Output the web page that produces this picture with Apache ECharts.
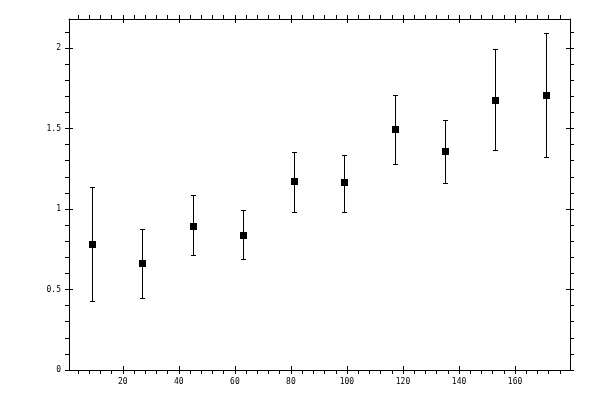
<!DOCTYPE html>
<html>
<head>
<meta charset="utf-8">
<script src="https://cdn.jsdelivr.net/npm/echarts@6/dist/echarts.min.js"></script>
<style>html,body{margin:0;padding:0;background:#fff}#c{width:600px;height:400px}</style>
</head>
<body>
<div id="c"></div>
<script>
const xValues = [9, 27, 45, 63, 81, 99, 117, 135, 153, 171];
const yValues = [0.785, 0.667, 0.897, 0.841, 1.171, 1.165, 1.495, 1.358, 1.676, 1.707];
const lowValues = [0.43, 0.45, 0.717, 0.692, 0.984, 0.984, 1.277, 1.159, 1.364, 1.321];
const highValues = [1.134, 0.878, 1.084, 0.991, 1.352, 1.337, 1.707, 1.551, 1.994, 2.093];
const xTickLabels = [20, 40, 60, 80, 100, 120, 140, 160];
const yTickLabels = [0, 0.5, 1, 1.5, 2];
const xMinorTicks = [];
for (let v = 4; v <= 176; v += 4) xMinorTicks.push(v);
const yMinorTicks = [];
for (let k = 0; k <= 21; k++) yMinorTicks.push(Math.round(k * 10) / 100);

const X_MIN = 0.8, X_MAX = 179.6, Y_MIN = 0, Y_MAX = 2.18;
const font = {fontFamily: 'DejaVu Sans Mono', fontSize: 8, color: '#000'};
const line = {lineStyle: {color: '#000', width: 1}};

function xAx(pos, major, labels) {
  return {
    type: 'value', position: pos, min: X_MIN, max: X_MAX,
    axisLine: {show: major, onZero: false, ...line},
    axisTick: {show: true, inside: major, length: 4, customValues: major ? xTickLabels : xMinorTicks, ...line},
    axisLabel: labels ? {show: true, customValues: xTickLabels, margin: 8, ...font} : {show: false},
    splitLine: {show: false}
  };
}
function yAx(pos, major, labels) {
  return {
    type: 'value', position: pos, min: Y_MIN, max: Y_MAX,
    axisLine: {show: major, onZero: false, ...line},
    axisTick: {show: true, inside: major, length: 4, customValues: major ? yTickLabels : yMinorTicks, ...line},
    axisLabel: labels ? {show: true, customValues: yTickLabels, margin: 8, ...font} : {show: false},
    splitLine: {show: false}
  };
}

const data = xValues.map((x, i) => [x, yValues[i], lowValues[i], highValues[i]]);

const chart = echarts.init(document.getElementById('c'));
chart.setOption({
  animation: false,
  backgroundColor: '#fff',
  grid: {left: 69, top: 19, right: 30, bottom: 30, containLabel: false},
  xAxis: [xAx('bottom', true, true), xAx('bottom', false, false), xAx('top', true, false), xAx('top', false, false)],
  yAxis: [yAx('left', true, true), yAx('left', false, false), yAx('right', true, false), yAx('right', false, false)],
  series: [{
    type: 'custom',
    xAxisIndex: 0, yAxisIndex: 0,
    data: data,
    encode: {x: 0, y: [1, 2, 3]},
    renderItem: function (params, api) {
      const c = api.coord([api.value(0), api.value(1)]);
      const lo = api.coord([api.value(0), api.value(2)]);
      const hi = api.coord([api.value(0), api.value(3)]);
      const x = Math.round(c[0]) + 0.5;
      const yl = Math.round(lo[1]) + 0.5, yh = Math.round(hi[1]) + 0.5;
      const st = {stroke: '#000', lineWidth: 1, fill: null};
      return {
        type: 'group',
        children: [
          {type: 'line', shape: {x1: x, y1: yl, x2: x, y2: yh}, style: st},
          {type: 'line', shape: {x1: x - 2.5, y1: yl, x2: x + 2.5, y2: yl}, style: st},
          {type: 'line', shape: {x1: x - 2.5, y1: yh, x2: x + 2.5, y2: yh}, style: st},
          {type: 'rect', shape: {x: Math.round(c[0]) - 3, y: Math.round(c[1]) - 3, width: 7, height: 7}, style: {fill: '#000'}}
        ]
      };
    }
  }]
});
</script>
</body>
</html>
